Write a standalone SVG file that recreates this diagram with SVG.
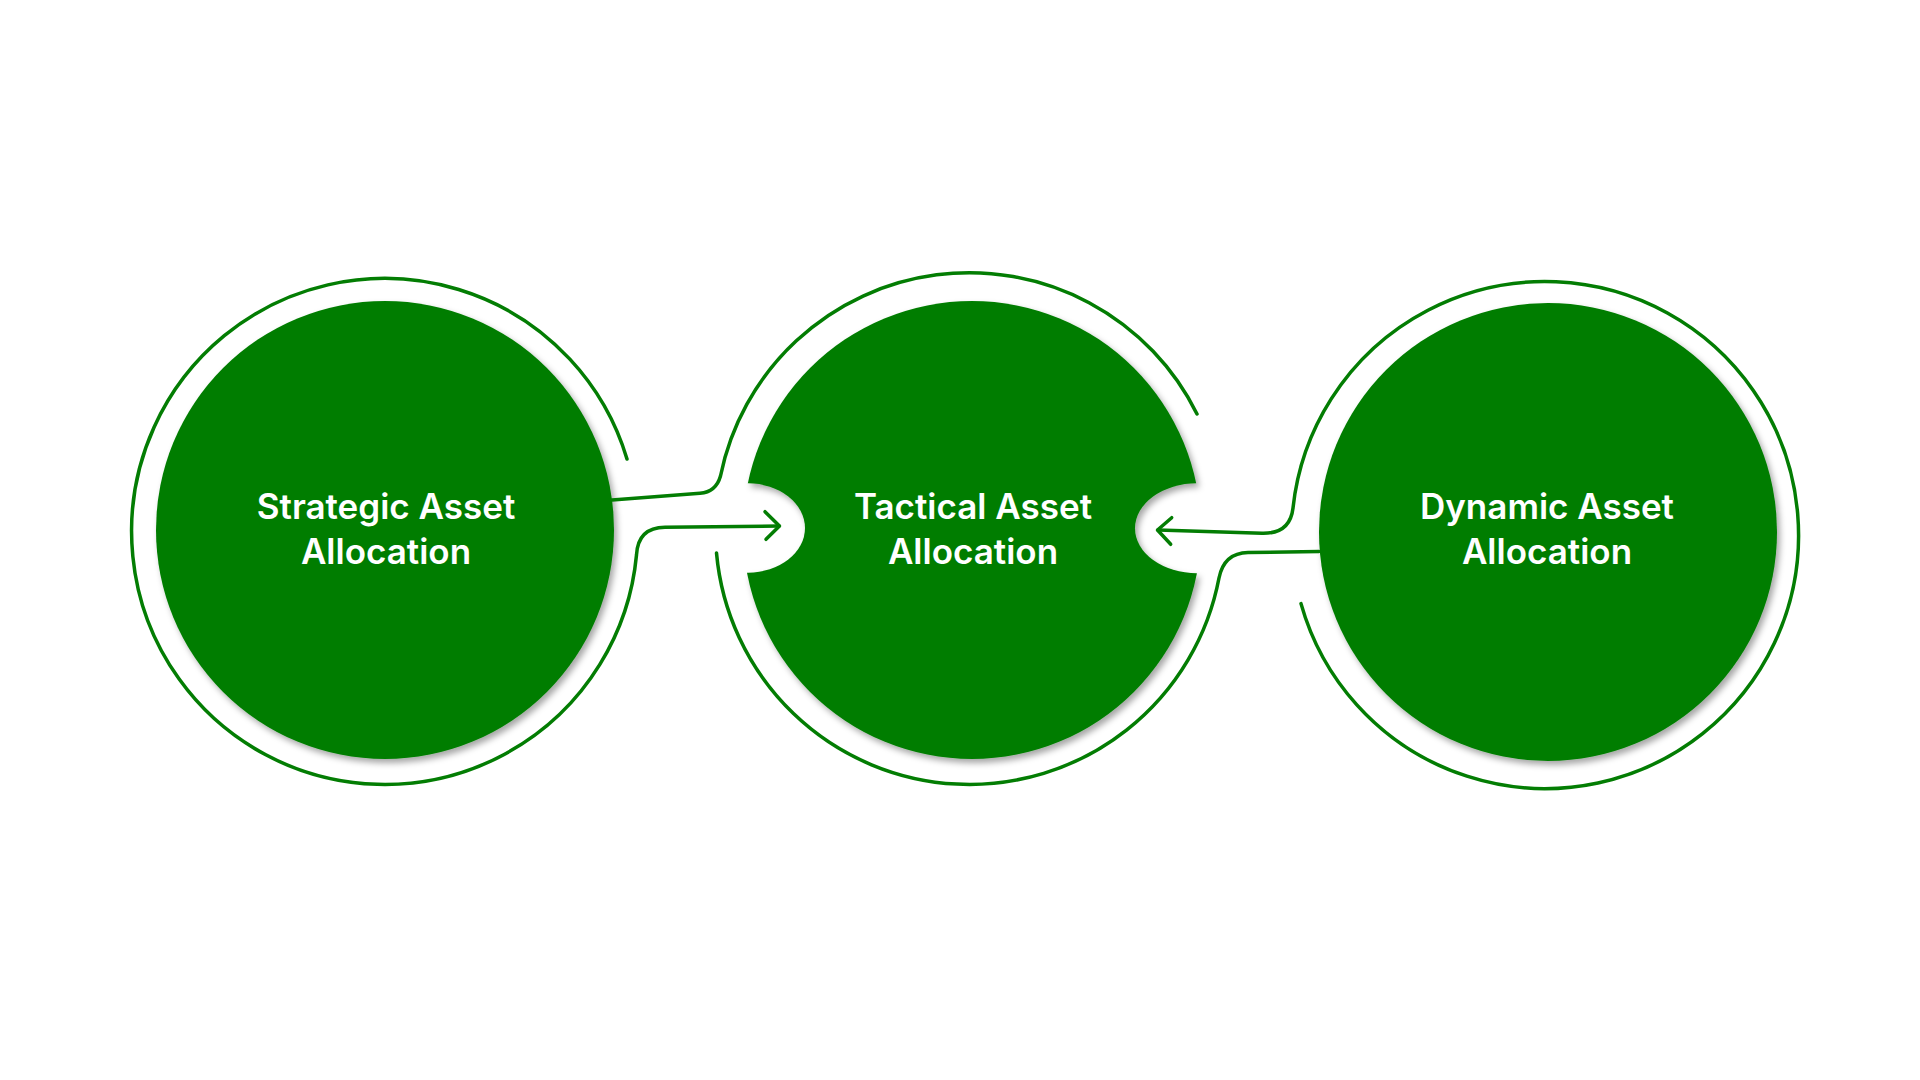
<svg xmlns="http://www.w3.org/2000/svg" width="1920" height="1080" viewBox="0 0 1920 1080">
<style>
.node{fill:#037d03}
.ring{fill:none;stroke:#037d03;stroke-width:3.5;stroke-linecap:round;stroke-linejoin:round}
.lbl{fill:#ffffff;font-family:Inter,Roboto,"Liberation Sans",sans-serif;font-weight:600;font-size:35px;text-anchor:middle}
</style>
<defs>
<filter id="sh" x="-10%" y="-10%" width="125%" height="125%">
<feDropShadow dx="3" dy="4" stdDeviation="3" flood-color="#000" flood-opacity="0.35"/>
</filter>
<mask id="notch">
<rect x="0" y="0" width="1920" height="1080" fill="#fff"/>
<path d="M748 483.3 A57 44.7 0 0 1 748 572.7 L700 572.7 L700 483.3 Z" fill="#000"/>
<path d="M1197 483.3 A62 45 0 0 0 1197 573.3 L1245 573.3 L1245 483.3 Z" fill="#000"/>
</mask>
</defs>
<rect width="1920" height="1080" fill="#fff"/>
<g id="node-strategic">
<circle class="node" cx="385" cy="530" r="229" filter="url(#sh)"/>
<text class="lbl" x="386" y="519">Strategic Asset</text>
<text class="lbl" x="386" y="564">Allocation</text>
</g>
<g id="node-tactical">
<g filter="url(#sh)"><circle class="node" cx="972" cy="530" r="229" mask="url(#notch)"/></g>
<text class="lbl" x="973" y="519">Tactical Asset</text>
<text class="lbl" x="973" y="564">Allocation</text>
</g>
<g id="node-dynamic">
<circle class="node" cx="1548" cy="532" r="229" filter="url(#sh)"/>
<text class="lbl" x="1547" y="519">Dynamic Asset</text>
<text class="lbl" x="1547" y="564">Allocation</text>
</g>
<g id="connectors">
<path class="ring" d="M627 459 A253 253 0 1 0 636.5 555 Q638 527.5 665 527.3 L779 526"/>
<path class="ring" d="M765 511.7 L779.5 526 L766 539.3"/>
<path class="ring" d="M612 500 L700 493.3 Q716 492 720.5 476 A254 254 0 0 1 1197 414"/>
<path class="ring" d="M716.5 553 A254 254 0 0 0 1219 578 Q1224 553 1248 552.5 L1319 551.5"/>
<path class="ring" d="M1301 603.6 A253.5 253.5 0 1 0 1293 508 Q1290 534 1262 533.3 L1158 530"/>
<path class="ring" d="M1171.7 517.7 L1157.5 530 L1170.7 544.3"/>
</g>
</svg>
